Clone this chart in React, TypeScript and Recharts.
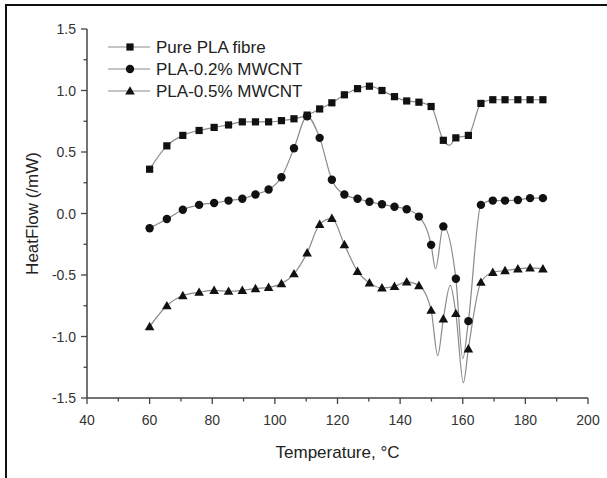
import React from 'react';
import { ComposedChart, Line, XAxis, YAxis, Legend } from 'recharts';

const temps = [60, 65.5, 70.6, 75.8, 80.6, 85.2, 89.6, 93.8, 98, 102.1, 106.1, 110.3, 114.3, 118.2, 122.2, 126.4, 130.2, 134.2, 138.2, 142.1, 146, 149.9, 153.8, 157.8, 161.8, 165.8, 169.6, 173.5, 177.6, 181.5, 185.6];
const pureVals = [0.36, 0.55, 0.635, 0.675, 0.70, 0.72, 0.745, 0.745, 0.745, 0.755, 0.77, 0.80, 0.85, 0.90, 0.965, 1.015, 1.035, 1.0, 0.95, 0.915, 0.905, 0.87, 0.595, 0.615, 0.635, 0.895, 0.925, 0.925, 0.925, 0.925, 0.925];
const pla02Vals = [-0.12, -0.045, 0.03, 0.07, 0.085, 0.105, 0.12, 0.155, 0.195, 0.295, 0.53, 0.79, 0.615, 0.275, 0.155, 0.12, 0.095, 0.075, 0.055, 0.035, -0.025, -0.255, -0.105, -0.53, -0.875, 0.07, 0.105, 0.105, 0.11, 0.125, 0.125];
const pla05Vals = [-0.92, -0.75, -0.667, -0.64, -0.625, -0.632, -0.625, -0.61, -0.6, -0.57, -0.49, -0.32, -0.088, -0.04, -0.253, -0.47, -0.564, -0.605, -0.592, -0.556, -0.586, -0.786, -0.856, -0.813, -1.1, -0.559, -0.478, -0.464, -0.45, -0.442, -0.45];

// extra points (minima/maxima between markers)
const pureCurvePts: [number, number][] = [[155.8, 0.555]];
const pla02CurvePts: [number, number][] = [[151.3, -0.45], [160.0, -1.18]];
const pla05CurvePts: [number, number][] = [[152.0, -1.155], [156.0, -0.585], [160.2, -1.375]];

const seriesNames = ['Pure PLA fibre', 'PLA-0.2% MWCNT', 'PLA-0.5% MWCNT'];
const seriesShapes = ['square', 'circle', 'triangle'];

const xTicks = [40, 50, 60, 70, 80, 90, 100, 110, 120, 130, 140, 150, 160, 170, 180, 190, 200];
const xLabels = [40, 60, 80, 100, 120, 140, 160, 180, 200];
const yTicks = [-1.5, -1.25, -1.0, -0.75, -0.5, -0.25, 0, 0.25, 0.5, 0.75, 1.0, 1.25, 1.5];
const yLabels = [-1.5, -1.0, -0.5, 0, 0.5, 1.0, 1.5];

const FONT = 'Liberation Sans, Arial, Helvetica, sans-serif';
const LINE = '#8a8a8a';
const MARK = '#111';
const AXIS = '#444';

function build(vals: number[], extra: [number, number][]) {
  const pts = temps.map((T, i) => ({ T, v: vals[i], m: true }));
  extra.forEach(([T, v]) => pts.push({ T, v, m: false }));
  pts.sort((a, b) => a.T - b.T);
  return pts;
}

const pureData = build(pureVals, pureCurvePts);
const pla02Data = build(pla02Vals, pla02CurvePts);
const pla05Data = build(pla05Vals, pla05CurvePts);

function Marker({ shape, cx, cy }: { shape: string; cx: number; cy: number }) {
  if (shape === 'square') return <rect x={cx - 3.6} y={cy - 3.6} width={7.2} height={7.2} fill={MARK} />;
  if (shape === 'circle') return <circle cx={cx} cy={cy} r={4.2} fill={MARK} />;
  const s = 4.8;
  return <polygon points={`${cx},${cy - s} ${cx + s},${cy + s * 0.75} ${cx - s},${cy + s * 0.75}`} fill={MARK} />;
}

const makeDot = (shape: string) => (props: any) => {
  const { cx, cy, payload, index } = props;
  if (!payload || !payload.m || cx == null || cy == null) return <g key={`n-${shape}-${index}`} />;
  return (
    <g key={`d-${shape}-${index}`}>
      <Marker shape={shape} cx={cx} cy={cy} />
    </g>
  );
};

const XTick = (props: any) => {
  const { x, y, payload } = props;
  const major = xLabels.includes(payload.value);
  return (
    <g>
      <line x1={x} x2={x} y1={y} y2={y + (major ? 6 : 3.5)} stroke={AXIS} strokeWidth={1.3} />
      {major && (
        <text x={x} y={y + 27} textAnchor="middle" fontSize={14} fontFamily={FONT} fill="#333">
          {payload.value}
        </text>
      )}
    </g>
  );
};

const YTick = (props: any) => {
  const { x, y, payload } = props;
  const v = payload.value;
  const major = yLabels.some((l) => Math.abs(l - v) < 1e-9);
  return (
    <g>
      <line x1={x} x2={x - (major ? 6 : 3.5)} y1={y} y2={y} stroke={AXIS} strokeWidth={1.3} />
      {major && (
        <text x={x - 11} y={y + 5} textAnchor="end" fontSize={14} fontFamily={FONT} fill="#333">
          {v.toFixed(1)}
        </text>
      )}
    </g>
  );
};

const LegendContent = () => (
  <svg width={260} height={70} style={{ overflow: 'visible' }}>
    {seriesNames.map((name, i) => {
      const cy = 12 + i * 22;
      return (
        <g key={name}>
          <line x1={4} x2={46} y1={cy} y2={cy} stroke={LINE} strokeWidth={1.2} />
          <Marker shape={seriesShapes[i]} cx={26} cy={cy} />
          <text x={52} y={cy + 6} fontSize={17} fontFamily={FONT} fill="#222">
            {name}
          </text>
        </g>
      );
    })}
  </svg>
);

const XLabel = (props: any) => {
  const { viewBox } = props;
  const cx = viewBox.x + viewBox.width / 2;
  return (
    <text x={cx} y={viewBox.y + 60} textAnchor="middle" fontSize={17} fontFamily={FONT} fill="#222">
      Temperature, °C
    </text>
  );
};

const YLabel = (props: any) => {
  const { viewBox } = props;
  const cy = viewBox.y + viewBox.height / 2;
  const x = 38;
  return (
    <text x={x} y={cy} transform={`rotate(-90 ${x} ${cy})`} textAnchor="middle" fontSize={17} fontFamily={FONT} fill="#222">
      HeatFlow (/mW)
    </text>
  );
};

export default function App() {
  return (
    <div style={{ position: 'absolute', left: 0, top: 0, width: 607, height: 478, background: '#fff', fontFamily: FONT }}>
      <div
        style={{
          position: 'absolute',
          left: 5,
          top: 4,
          right: 0,
          bottom: 0,
          borderTop: '2px solid #111',
          borderLeft: '2px solid #111',
        }}
      />
      <ComposedChart width={607} height={478} margin={{ top: 29, right: 19, bottom: 50, left: 27 }}>
        <XAxis
          type="number"
          dataKey="T"
          domain={[40, 200]}
          ticks={xTicks}
          interval={0}
          allowDataOverflow
          height={30}
          tickSize={0}
          tickMargin={0}
          tickLine={false}
          tick={<XTick />}
          axisLine={{ stroke: AXIS, strokeWidth: 1.5 }}
          label={<XLabel />}
        />
        <YAxis
          type="number"
          dataKey="v"
          domain={[-1.5, 1.5]}
          ticks={yTicks}
          interval={0}
          allowDataOverflow
          width={60}
          tickSize={0}
          tickMargin={0}
          tickLine={false}
          tick={<YTick />}
          axisLine={{ stroke: AXIS, strokeWidth: 1.5 }}
          label={<YLabel />}
        />
        <Legend
          layout="horizontal"
          verticalAlign="middle"
          align="center"
          content={<LegendContent />}
          wrapperStyle={{ left: 104, top: 35, width: 260, height: 70 }}
        />
        <Line data={pureData} dataKey="v" type="monotone" stroke={LINE} strokeWidth={1.2} dot={makeDot('square')} activeDot={false} isAnimationActive={false} legendType="none" />
        <Line data={pla02Data} dataKey="v" type="monotone" stroke={LINE} strokeWidth={1.2} dot={makeDot('circle')} activeDot={false} isAnimationActive={false} legendType="none" />
        <Line data={pla05Data} dataKey="v" type="monotone" stroke={LINE} strokeWidth={1.2} dot={makeDot('triangle')} activeDot={false} isAnimationActive={false} legendType="none" />
      </ComposedChart>
    </div>
  );
}
